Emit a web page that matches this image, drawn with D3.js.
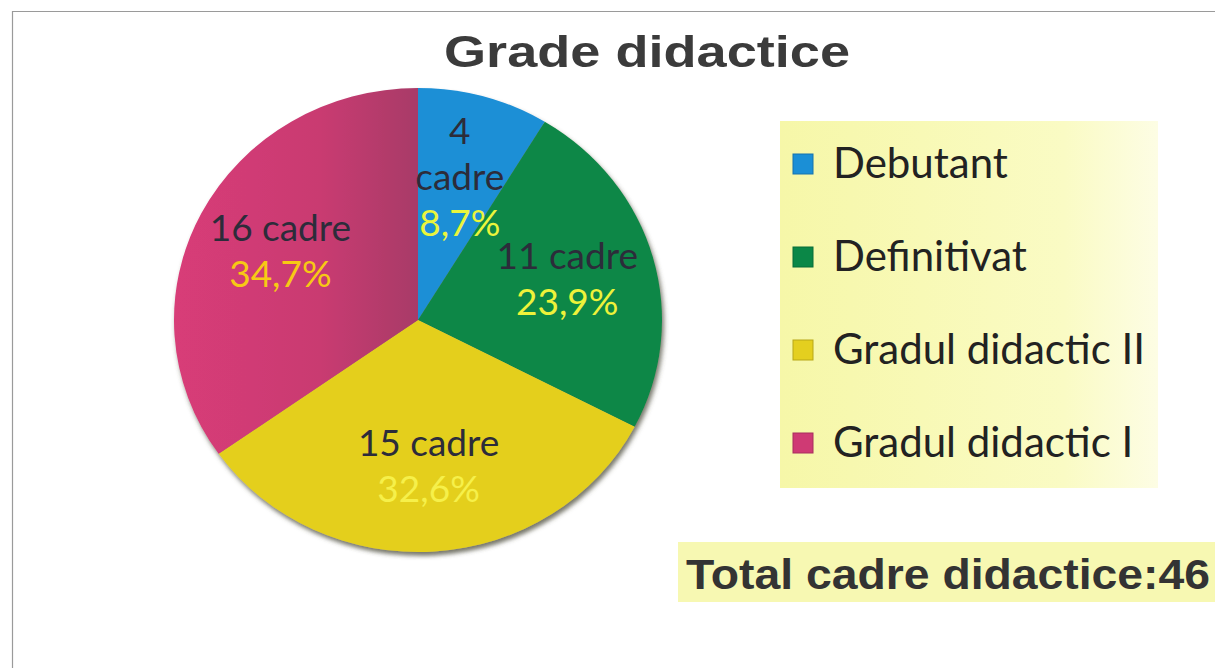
<!DOCTYPE html>
<html>
<head>
<meta charset="utf-8">
<script src="https://cdn.jsdelivr.net/npm/d3@7"></script>
<style>
  body { margin: 0; background: #fff; }
  svg { display: block; }
</style>
</head>
<body>
<div id="chart"></div>
<script>
// data
var categories = ["Debutant", "Definitivat", "Gradul didactic II", "Gradul didactic I"]
var cadre = [4, 11, 15, 16]
var percentLabels = ["8,7%", "23,9%", "32,6%", "34,7%"]
var countLabels = [["4", "cadre"], ["11 cadre"], ["15 cadre"], ["16 cadre"]]
var sliceColors = ["#1b8fd6", "#0b8747", "#e4cf1f", "#cf3a74"]
var percentColors = ["#eaf53c", "#eef23a", "#f6f04a", "#f7c914"]
var titleText = "Grade didactice"
var totalText = "Total cadre didactice:" + d3.sum(cadre)

var W = 1215, H = 668
var svg = d3.select("#chart").append("svg")
    .attr("width", W)
    .attr("height", H)

var defs = svg.append("defs")

var shadow = defs.append("filter")
    .attr("id", "pieShadow")
    .attr("x", "-10%").attr("y", "-10%")
    .attr("width", "120%").attr("height", "120%")
shadow.append("feDropShadow")
    .attr("dx", 2).attr("dy", 4)
    .attr("stdDeviation", 2.5)
    .attr("flood-color", "#4a4a3a")
    .attr("flood-opacity", 0.75)

// pink slice goes a bit purple toward the centre line
var pinkGrad = defs.append("linearGradient")
    .attr("id", "pinkGrad")
    .attr("x1", "0").attr("y1", "0").attr("x2", "1").attr("y2", "0")
pinkGrad.append("stop").attr("offset", "0%").attr("stop-color", "#d83c78")
pinkGrad.append("stop").attr("offset", "60%").attr("stop-color", "#c93a71")
pinkGrad.append("stop").attr("offset", "100%").attr("stop-color", "#a83a68")

var legendGrad = defs.append("linearGradient")
    .attr("id", "legendGrad")
    .attr("x1", "0").attr("y1", "0").attr("x2", "1").attr("y2", "0")
legendGrad.append("stop").attr("offset", "0%").attr("stop-color", "#f6f7a8")
legendGrad.append("stop").attr("offset", "75%").attr("stop-color", "#fafbc4")
legendGrad.append("stop").attr("offset", "100%").attr("stop-color", "#fdfde4")

// frame lines (left + top)
svg.append("path")
    .attr("d", "M12.5," + H + "V11.5H" + W)
    .attr("fill", "none")
    .attr("stroke", "#9a9a9a")
    .attr("stroke-width", 1.2)

// title
svg.append("text")
    .attr("x", 647)
    .attr("y", 67)
    .attr("text-anchor", "middle")
    .attr("textLength", 406)
    .attr("lengthAdjust", "spacingAndGlyphs")
    .style("font-family", "'Liberation Sans', Arial, sans-serif")
    .style("font-weight", "bold")
    .style("font-size", "45px")
    .style("fill", "#3b3b3b")
    .text(titleText)

// PIE
var cx = 418, cy = 320, rx = 244, ry = 232

var pie = d3.pie().sort(null).value(d => d)
var arcs = pie(cadre)

var arc = d3.arc().innerRadius(0).outerRadius(rx)
var labelArc = d3.arc().innerRadius(155).outerRadius(155)

var pieG = svg.append("g")
    .attr("transform", "translate(" + cx + "," + cy + ") scale(1," + (ry / rx) + ")")
    .attr("filter", "url(#pieShadow)")

pieG.selectAll("path.slice")
    .data(arcs)
    .join("path")
    .attr("class", "slice")
    .attr("d", arc)
    .attr("fill", (d, i) => i == 3 ? "url(#pinkGrad)" : sliceColors[i])

// labels
var labelG = svg.append("g")
    .attr("transform", "translate(" + cx + "," + cy + ")")

var lineH = 46
labelG.selectAll("text.lbl")
    .data(arcs)
    .join("text")
    .attr("class", "lbl")
    .attr("text-anchor", "middle")
    .style("font-family", "Lato, 'Noto Sans', sans-serif")
    .style("font-size", "37px")
    .each(function (d, i) {
        var c = labelArc.centroid(d)
        var lines = countLabels[i].concat([percentLabels[i]])
        var n = lines.length
        var t = d3.select(this)
        lines.forEach(function (s, j) {
            t.append("tspan")
                .attr("x", c[0])
                .attr("y", c[1] * (ry / rx) + (j - (n - 1) / 2) * lineH + 12)
                .style("fill", j == n - 1 ? percentColors[i] : "#2c2c3a")
                .text(s)
        })
    })

// LEGEND
svg.append("rect")
    .attr("x", 780).attr("y", 121)
    .attr("width", 378).attr("height", 367)
    .attr("fill", "url(#legendGrad)")

var legend = svg.append("g")

var legY = d3.scalePoint()
    .domain(categories)
    .range([164, 443])

var item = legend.selectAll("g.item")
    .data(categories)
    .join("g")
    .attr("class", "item")
    .attr("transform", d => "translate(793," + legY(d) + ")")

item.append("rect")
    .attr("x", 0).attr("y", -10)
    .attr("width", 20).attr("height", 20)
    .attr("fill", (d, i) => sliceColors[i])
    .attr("stroke", (d, i) => d3.color(sliceColors[i]).darker(0.6))
    .attr("stroke-width", 1)

item.append("text")
    .attr("x", 40)
    .attr("y", 14)
    .style("font-family", "Lato, 'Noto Sans', sans-serif")
    .style("font-size", "42px")
    .style("fill", "#222")
    .text(d => d)

// total box
svg.append("rect")
    .attr("x", 678).attr("y", 542)
    .attr("width", W - 678).attr("height", 60)
    .attr("fill", "#f7f8b2")

svg.append("text")
    .attr("x", 686)
    .attr("y", 589)
    .attr("textLength", 524)
    .attr("lengthAdjust", "spacingAndGlyphs")
    .style("font-family", "'Liberation Sans', Arial, sans-serif")
    .style("font-weight", "bold")
    .style("font-size", "42px")
    .style("fill", "#333")
    .text(totalText)
</script>
</body>
</html>
